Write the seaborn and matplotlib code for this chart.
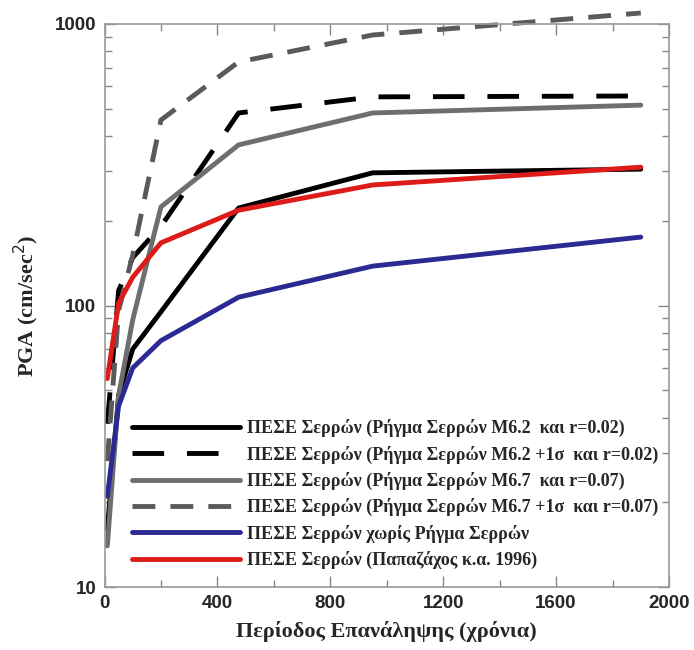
import matplotlib
matplotlib.use("Agg")
import matplotlib.pyplot as plt
import matplotlib.ticker as mticker
import seaborn as sns
import pandas as pd

# Return periods (years)
years = [10, 50, 100, 200, 475, 950, 1900]

# PGA (cm/sec^2) for each hazard scenario
m62 = [16, 48, 70, 95, 222, 296, 305]
m62_1s = [38, 113, 148, 191, 483, 551, 555]
m67 = [14, 48, 89, 224, 372, 483, 515]
m67_1s = [28, 96, 151, 456, 733, 914, 1094]
no_fault = [21, 44, 60, 75, 107, 138, 175]
papazachos = [55, 102, 126, 167, 218, 268, 310]

labels = [
    "ΠΕΣΕ Σερρών (Ρήγμα Σερρών Μ6.2  και r=0.02)",
    "ΠΕΣΕ Σερρών (Ρήγμα Σερρών Μ6.2 +1σ  και r=0.02)",
    "ΠΕΣΕ Σερρών (Ρήγμα Σερρών Μ6.7  και r=0.07)",
    "ΠΕΣΕ Σερρών (Ρήγμα Σερρών Μ6.7 +1σ  και r=0.07)",
    "ΠΕΣΕ Σερρών χωρίς Ρήγμα Σερρών",
    "ΠΕΣΕ Σερρών (Παπαζάχος κ.α. 1996)",
]

sns.set_theme(style="ticks")
plt.rcParams["font.family"] = ["Liberation Sans", "DejaVu Sans"]

fig = plt.figure(figsize=(6.94, 6.5), dpi=100)
ax = fig.add_axes([104.5 / 694, 1 - 587 / 650, (669 - 104.5) / 694, (587 - 24) / 650])

styles = [
    dict(color="#000000", linestyle="-"),
    dict(color="#000000", linestyle=(0, (6.5, 4.7))),
    dict(color="#6e6e6e", linestyle="-"),
    dict(color="#5a5a5a", linestyle=(0, (4.7, 3.1))),
    dict(color="#2b2a92", linestyle="-"),
    dict(color="#dd1c1a", linestyle="-"),
]
series = [m62, m62_1s, m67, m67_1s, no_fault, papazachos]

for vals, lab, st in zip(series, labels, styles):
    df = pd.DataFrame({"year": years, "pga": vals})
    sns.lineplot(data=df, x="year", y="pga", ax=ax, label=lab,
                 linewidth=3.5, clip_on=False, **st)

ax.set_yscale("log")
ax.set_xlim(0, 2000)
ax.set_ylim(10, 1000)
ax.xaxis.set_major_locator(mticker.MultipleLocator(400))
ax.xaxis.set_minor_locator(mticker.MultipleLocator(200))
ax.yaxis.set_major_locator(mticker.LogLocator(base=10))
ax.yaxis.set_minor_locator(mticker.LogLocator(base=10, subs=range(2, 10)))
ax.yaxis.set_major_formatter(mticker.FuncFormatter(lambda v, p: f"{v:g}"))
ax.yaxis.set_minor_formatter(mticker.NullFormatter())

ax.tick_params(which="both", direction="in", top=True, right=True,
               color="#888888", width=1.0)
ax.tick_params(which="major", length=8, labelsize=13.5, pad=6)
ax.tick_params(which="minor", length=5)
for lbl in ax.get_xticklabels() + ax.get_yticklabels():
    lbl.set_fontweight("bold")
for sp in ax.spines.values():
    sp.set_color("#9a9a9a")
    sp.set_linewidth(1.2)

serif = ["Liberation Serif", "DejaVu Serif"]
ax.set_xlabel("Περίοδος Επανάληψης (χρόνια)", family=serif, fontweight="bold",
              fontsize=16, labelpad=6)
ax.set_ylabel("PGA (cm/sec$^2$)", family=serif, fontweight="bold",
              fontsize=16, labelpad=10)

leg = ax.legend(loc="lower left", bbox_to_anchor=(0.02, 0.003), frameon=False,
                handlelength=6.0, handletextpad=0.35, labelspacing=0.46,
                prop=dict(family=serif, weight="bold", size=13))

fig.savefig("out.png", dpi=100)
